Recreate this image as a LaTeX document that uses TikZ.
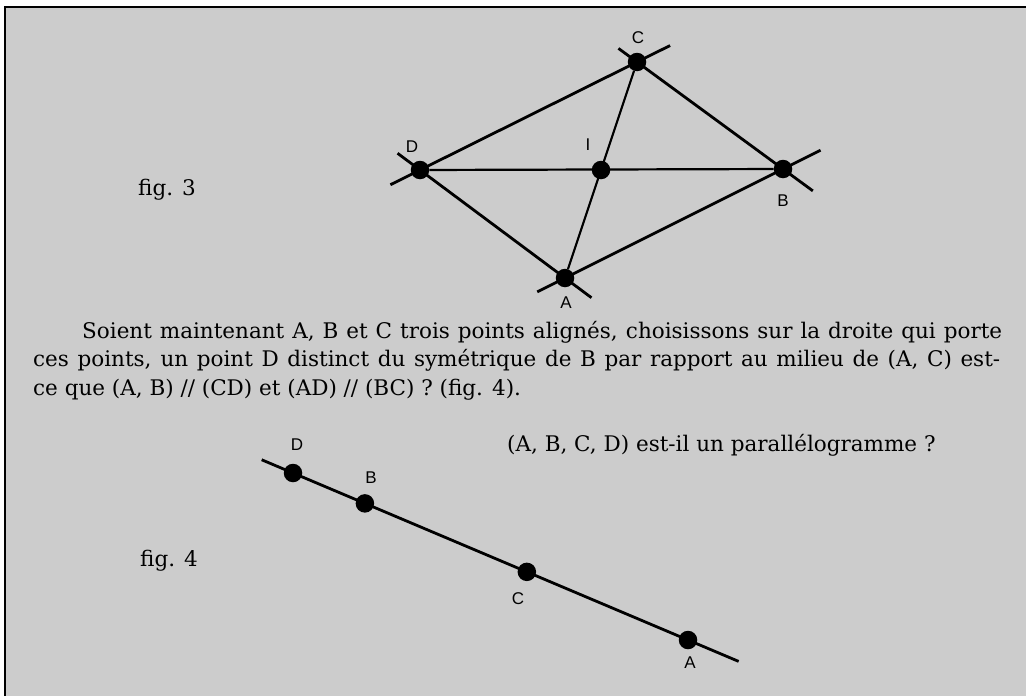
\documentclass[tikz,border=0pt]{standalone}
\usepackage{fontspec}
\setmainfont{DejaVu Serif}
\newfontfamily\labelfont{Liberation Sans}
\usetikzlibrary{calc}
\begin{document}
\begin{tikzpicture}[x=1pt,y=-1pt,
  side/.style={line width=2.8pt},
  diag/.style={line width=2.2pt},
  dot/.style={circle,fill=black,inner sep=0pt,minimum size=18.5pt},
  lbl/.style={font=\labelfont\fontsize{17}{17}\selectfont,inner sep=0pt},
  body/.style={font=\fontsize{21.5}{26}\selectfont,inner sep=0pt,anchor=base west},
  frame/.style={line width=2pt}]
\useasboundingbox (0,0) rectangle (1026,696);
% background
\fill[black!20] (5,7) rectangle (1026,696);
\draw[frame] (1026,7) -- (5,7) -- (5,696);

% ---------- fig. 3 ----------
\node[dot] (C) at (637,62) {};
\node[dot] (D) at (420,170) {};
\node[dot] (B) at (783,169) {};
\node[dot] (A) at (565,278) {};
\node[dot] (I) at (601,170) {};
\coordinate (cD) at ($(C)!-37pt!(D)$);
\coordinate (cB) at ($(C)!-23pt!(B)$);
\coordinate (dC) at ($(D)!-33pt!(C)$);
\coordinate (dA) at ($(D)!-28pt!(A)$);
\coordinate (bA) at ($(B)!-42pt!(A)$);
\coordinate (bC) at ($(B)!-37pt!(C)$);
\coordinate (aD) at ($(A)!-33pt!(D)$);
\coordinate (aB) at ($(A)!-31pt!(B)$);
\draw[side] (dC) -- (cD);
\draw[side] (cB) -- (bC);
\draw[side] (aB) -- (bA);
\draw[side] (dA) -- (aD);
\draw[diag] (D) -- (B);
\draw[diag] (A) -- (C);
\node[lbl] (lC) at (638,38) {C};
\node[lbl] (lD) at (412,147) {D};
\node[lbl] (lI) at (588,145) {I};
\node[lbl] (lB) at (783,201) {B};
\node[lbl] (lA) at (566,303) {A};
\node[body] (f3) at (138,195) {fig. 3};

% ---------- text ----------
\node[body] (t1) at (82,338.5) {\makebox[920pt][s]{Soient maintenant A, B et C trois points alignés, choisissons sur la droite qui porte}};
\node[body] (t2) at (33,366) {\makebox[967pt][s]{ces points, un point D distinct du symétrique de B par rapport au milieu de (A, C) est-}};
\node[body] (t3) at (33,395) {ce que (A, B) // (CD) et (AD) // (BC) ? (fig. 4).};

% ---------- fig. 4 ----------
\node[body] (q) at (507,451) {(A, B, C, D) est-il un parallélogramme ?};
\node[body] (f4) at (140,566) {fig. 4};
\node[dot] (D4) at (293,473) {};
\node[dot] (A4) at (688,640) {};
\node[dot] (B4) at ($(D4)!0.182!(A4)$) {};
\node[dot] (C4) at ($(D4)!0.592!(A4)$) {};
\coordinate (s4) at ($(D4)!-34pt!(A4)$);
\coordinate (e4) at ($(A4)!-55pt!(D4)$);
\draw[side] (s4) -- (e4);
\node[lbl] (lD4) at (297,445) {D};
\node[lbl] (lB4) at (371,478) {B};
\node[lbl] (lC4) at (518,599) {C};
\node[lbl] (lA4) at (690,663) {A};
\end{tikzpicture}
\end{document}
